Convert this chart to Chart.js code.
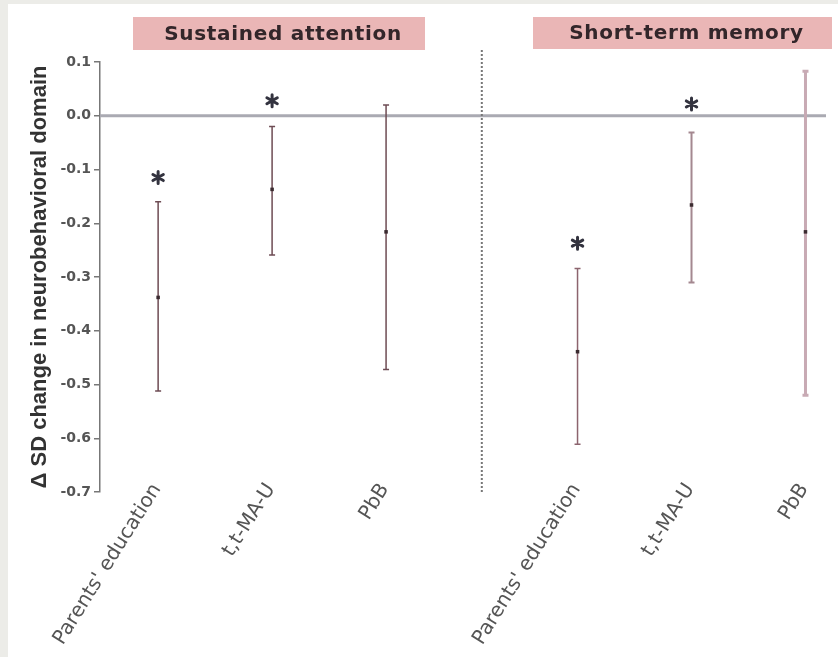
<!DOCTYPE html>
<html>
<head>
<meta charset="utf-8">
<script src="https://cdn.jsdelivr.net/npm/chart.js@4.4.1/dist/chart.umd.min.js"></script>
<style>
html, body { margin: 0; padding: 0; background: #ecece8; }
#wrap { position: absolute; left: 8px; top: 4px; width: 830px; height: 653px; background: #fff; }
</style>
</head>
<body>
<div id="wrap"><canvas id="chart"></canvas></div>
<script>
// valeurs
const categories = ["Parents' education", "t,t-MA-U", "PbB", "Parents' education", "t,t-MA-U", "PbB"];
const xPos = [0, 1, 2, 3.68, 4.68, 5.68];
const estimate = [-0.338, -0.137, -0.216, -0.439, -0.166, -0.216];
const lower = [-0.512, -0.259, -0.472, -0.611, -0.310, -0.520];
const upper = [-0.160, -0.020, 0.020, -0.284, -0.031, 0.083];
const starY = [-0.115, 0.028, null, -0.237, 0.022, null];
const panels = ['Sustained attention', 'Short-term memory'];
const yTicks = [0.1, 0.0, -0.1, -0.2, -0.3, -0.4, -0.5, -0.6, -0.7];
const dividerX = 2.84;

const barColors = ['#6e4c54', '#6e4c54', '#6e4c54', '#8c646e', '#a48890', '#c8aab4'];
const barWidths = [1.5, 1.5, 1.5, 1.5, 2, 3];

const drawExtras = {
    id: 'drawExtras',
    beforeDatasetsDraw(chart) {
        const { ctx, chartArea, scales: { x, y } } = chart;
        ctx.save();
        // ligne zero
        ctx.strokeStyle = '#aaaab2';
        ctx.lineWidth = 3;
        ctx.beginPath();
        ctx.moveTo(chartArea.left, y.getPixelForValue(0));
        ctx.lineTo(chartArea.right, y.getPixelForValue(0));
        ctx.stroke();
        // séparateur pointillé
        ctx.strokeStyle = '#777';
        ctx.lineWidth = 2;
        ctx.setLineDash([2, 2]);
        ctx.beginPath();
        ctx.moveTo(x.getPixelForValue(dividerX), chartArea.top - 12);
        ctx.lineTo(x.getPixelForValue(dividerX), chartArea.bottom);
        ctx.stroke();
        ctx.setLineDash([]);
        // barres d'erreur
        xPos.forEach((xv, i) => {
            const px = x.getPixelForValue(xv);
            const pLow = y.getPixelForValue(lower[i]);
            const pHigh = y.getPixelForValue(upper[i]);
            ctx.strokeStyle = barColors[i];
            ctx.lineWidth = barWidths[i];
            ctx.beginPath();
            ctx.moveTo(px, pLow);
            ctx.lineTo(px, pHigh);
            ctx.moveTo(px - 3, pLow);
            ctx.lineTo(px + 3, pLow);
            ctx.moveTo(px - 3, pHigh);
            ctx.lineTo(px + 3, pHigh);
            ctx.stroke();
        });
        ctx.restore();
    },
    afterDatasetsDraw(chart) {
        const { ctx, scales: { x, y } } = chart;
        ctx.save();
        // étoiles
        ctx.strokeStyle = '#33333f';
        ctx.lineWidth = 3;
        ctx.lineCap = 'round';
        starY.forEach((sv, i) => {
            if (sv === null) return;
            const cx = x.getPixelForValue(xPos[i]);
            const cy = y.getPixelForValue(sv);
            const r = 6;
            ctx.beginPath();
            for (let k = 0; k < 3; k++) {
                const a = Math.PI / 2 + k * Math.PI / 3;
                ctx.moveTo(cx - r * Math.cos(a), cy - r * Math.sin(a));
                ctx.lineTo(cx + r * Math.cos(a), cy + r * Math.sin(a));
            }
            ctx.stroke();
        });
        // titres des panneaux
        const boxes = [[125, 13, 292, 33], [525, 13, 299, 32]];
        ctx.font = 'bold 20px "DejaVu Sans"';
        ctx.letterSpacing = '0.7px';
        ctx.textAlign = 'center';
        ctx.textBaseline = 'middle';
        boxes.forEach((b, i) => {
            ctx.fillStyle = '#eab6b6';
            ctx.fillRect(b[0], b[1], b[2], b[3]);
            ctx.fillStyle = '#33262a';
            ctx.fillText(panels[i], b[0] + b[2] / 2 + 4, b[1] + b[3] / 2 + 1);
        });
        ctx.restore();
    }
};

let ctx = document.getElementById('chart').getContext('2d');
let chart = new Chart(ctx, {
    type: 'scatter',
    data: {
        datasets: [{
            label: 'Estimate',
            data: xPos.map((xv, i) => ({ x: xv, y: estimate[i] })),
            pointStyle: 'rect',
            pointRadius: 2.5,
            backgroundColor: '#3b2b30',
            borderWidth: 0
        }]
    },
    options: {
        responsive: true,
        maintainAspectRatio: false,
        animation: false,
        layout: { padding: { top: 58, right: 12, bottom: 0, left: 0 } },
        plugins: {
            legend: { display: false },
            tooltip: { enabled: false }
        },
        scales: {
            x: {
                type: 'linear',
                min: -0.51,
                max: 5.86,
                afterBuildTicks: s => { s.ticks = xPos.map(v => ({ value: v })); },
                afterFit: s => { s.height = 165; s.paddingLeft = 0; s.paddingRight = 0; },
                grid: { display: false },
                border: { display: false },
                ticks: {
                    autoSkip: false,
                    minRotation: 58,
                    maxRotation: 58,
                    mirror: true,
                    padding: 0,
                    labelOffset: 19,
                    color: '#555',
                    font: { family: 'DejaVu Sans', size: 20 },
                    callback: (v, i) => categories[i]
                }
            },
            y: {
                min: -0.7,
                max: 0.1,
                afterBuildTicks: s => { s.ticks = yTicks.map(v => ({ value: v })); },
                afterFit: s => { s.width = 92; },
                grid: { drawOnChartArea: false, drawTicks: true, tickLength: 6, color: '#777', lineWidth: 1.5 },
                border: { display: true, color: '#777', width: 1.5 },
                ticks: {
                    padding: 3,
                    color: '#555',
                    font: { family: 'DejaVu Sans', weight: 'bold', size: 14 },
                    callback: v => v.toFixed(1)
                },
                title: {
                    display: true,
                    text: 'Δ SD change in neurobehavioral domain',
                    color: '#333',
                    font: { family: 'Liberation Sans', weight: 'bold', size: 22 },
                    padding: { top: 19, bottom: 0 }
                }
            }
        }
    },
    plugins: [drawExtras]
});
</script>
</body>
</html>
